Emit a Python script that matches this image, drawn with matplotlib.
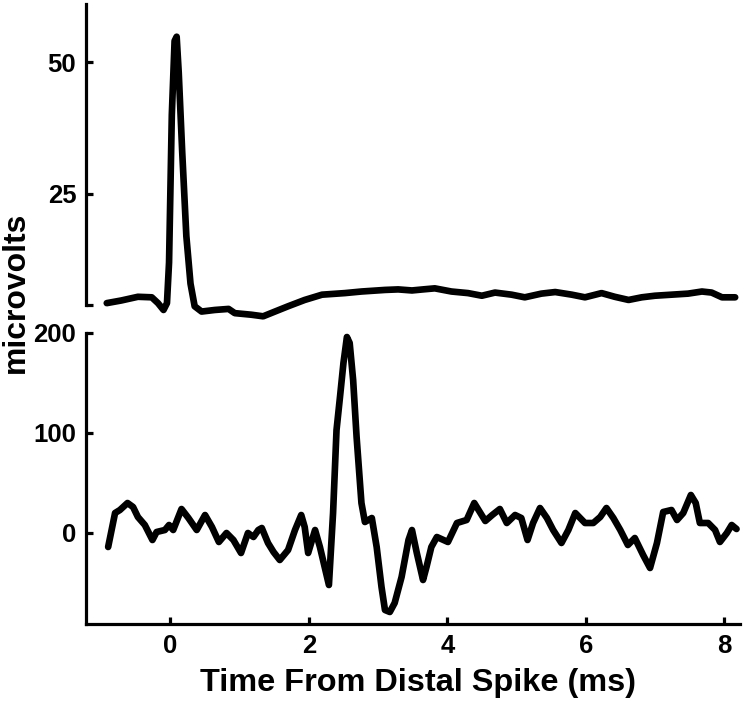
#!/usr/bin/env python3
import matplotlib
matplotlib.use("Agg")
import matplotlib.pyplot as plt


# proximal trace (top panel), microvolts vs ms from distal spike
TOP_TIME = [
    -0.92, -0.71, -0.47, -0.27, -0.18, -0.10, -0.05, -0.02, 0.02, 0.06,
    0.09, 0.12, 0.17, 0.23, 0.29, 0.35, 0.45, 0.64, 0.84, 0.93,
    1.17, 1.34, 1.51, 1.70, 1.94, 2.19, 2.52, 2.76, 3.10, 3.29,
    3.49, 3.65, 3.82, 4.06, 4.30, 4.50, 4.69, 4.93, 5.12, 5.36,
    5.56, 5.80, 5.99, 6.23, 6.42, 6.62, 6.81, 7.00, 7.24, 7.48,
    7.68, 7.82, 7.97, 8.16,
]
TOP_UV = [
    4.3, 4.8, 5.5, 5.4, 4.3, 3.0, 4.3, 12.0, 40.0, 54.0,
    54.8, 48.0, 33.0, 17.0, 8.0, 3.7, 2.7, 3.0, 3.2, 2.4,
    2.1, 1.8, 2.7, 3.7, 4.9, 5.9, 6.2, 6.5, 6.8, 6.9,
    6.7, 6.9, 7.1, 6.5, 6.2, 5.7, 6.3, 5.9, 5.4, 6.1,
    6.4, 5.9, 5.4, 6.2, 5.5, 4.9, 5.4, 5.7, 5.9, 6.1,
    6.5, 6.3, 5.4, 5.4,
]

# distal trace (bottom panel)
BOTTOM_TIME = [
    -0.90, -0.85, -0.80, -0.73, -0.62, -0.54, -0.47, -0.37, -0.26, -0.20,
    -0.08, -0.02, 0.04, 0.16, 0.26, 0.38, 0.50, 0.60, 0.70, 0.81,
    0.91, 1.02, 1.12, 1.20, 1.27, 1.32, 1.41, 1.49, 1.58, 1.70,
    1.80, 1.89, 1.94, 1.99, 2.09, 2.16, 2.29, 2.35, 2.40, 2.45,
    2.50, 2.55, 2.59, 2.64, 2.69, 2.76, 2.81, 2.91, 2.98, 3.05,
    3.10, 3.17, 3.24, 3.34, 3.44, 3.49, 3.56, 3.65, 3.70, 3.77,
    3.85, 4.01, 4.14, 4.28, 4.39, 4.47, 4.55, 4.65, 4.76, 4.86,
    4.98, 5.07, 5.16, 5.24, 5.34, 5.44, 5.53, 5.65, 5.75, 5.85,
    5.92, 5.99, 6.11, 6.21, 6.30, 6.40, 6.50, 6.61, 6.71, 6.83,
    6.93, 7.03, 7.12, 7.24, 7.32, 7.41, 7.52, 7.59, 7.65, 7.77,
    7.87, 7.94, 8.04, 8.11, 8.18,
]
BOTTOM_UV = [
    -14, 3, 20, 23, 30, 26, 16, 8, -7, 1,
    3, 8, 3, 24, 15, 3, 18, 6, -9, 0,
    -7, -20, 0, -4, 3, 5, -10, -19, -27, -17,
    3, 18, 6, -20, 3, -14, -52, 20, 103, 136,
    170, 196, 190, 153, 96, 30, 11, 15, -14, -54,
    -77, -79, -70, -44, -7, 3, -20, -47, -34, -14,
    -4, -9, 10, 13, 30, 21, 12, 18, 24, 10,
    18, 15, -7, 10, 25, 15, 3, -10, 3, 20,
    15, 10, 10, 16, 25, 15, 3, -12, -5, -22,
    -35, -10, 21, 23, 13, 20, 38, 30, 10, 10,
    3, -9, 0, 8, 4,
]

TOP_TICKS = [25, 50]
BOTTOM_TICKS = [0, 100, 200]
X_TICKS = [0, 2, 4, 6, 8]

FONT = "Liberation Sans"


def style_axis(ax):
    ax.spines["top"].set_visible(False)
    ax.spines["right"].set_visible(False)
    for sp in ax.spines.values():
        sp.set_linewidth(2.3)
    ax.tick_params(direction="in", length=5, width=2.3, labelsize=18.5, pad=7)
    ax.tick_params(which="minor", direction="in", length=5, width=2.3)
    for label in ax.get_xticklabels() + ax.get_yticklabels():
        label.set_fontweight("bold")
        label.set_fontfamily(FONT)


def main():
    fig = plt.figure(figsize=(7.5, 7.02), dpi=100)

    left, width = 86 / 750, (740 - 86) / 750
    ax_top = fig.add_axes([left, (702 - 320) / 702, width, 316 / 702])
    ax_bot = fig.add_axes([left, (702 - 624) / 702, width, 296 / 702])

    line_kw = dict(color="black", linewidth=4.8, solid_joinstyle="round",
                   solid_capstyle="round", clip_on=False)

    ax_top.plot(TOP_TIME, TOP_UV, **line_kw)
    ax_top.set_xlim(-1.22, 8.23)
    ax_top.set_ylim(1.1, 61.0)
    ax_top.spines["bottom"].set_visible(False)
    ax_top.spines["left"].set_bounds(4.0, 61.0)
    ax_top.set_xticks([])
    ax_top.set_yticks(TOP_TICKS)
    # small unlabeled tick at the foot of the top spine
    ax_top.set_yticks([4.0], minor=True)
    style_axis(ax_top)

    ax_bot.plot(BOTTOM_TIME, BOTTOM_UV, **line_kw)
    ax_bot.set_xlim(-1.22, 8.23)
    ax_bot.set_ylim(-91, 205)
    ax_bot.spines["left"].set_bounds(-91, 200)
    ax_bot.set_xticks(X_TICKS)
    ax_bot.set_yticks(BOTTOM_TICKS)
    style_axis(ax_bot)

    fig.text(418 / 750, 1 - 683 / 702, "Time From Distal Spike (ms)",
             ha="center", va="center", fontsize=23.4, fontweight="bold", family=FONT)
    fig.text(16 / 750, 1 - 292 / 702, "microvolts", rotation=90,
             ha="center", va="center", fontsize=23, fontweight="bold", family=FONT)

    fig.savefig("out.png", dpi=100)
    plt.close(fig)


if __name__ == "__main__":
    main()
